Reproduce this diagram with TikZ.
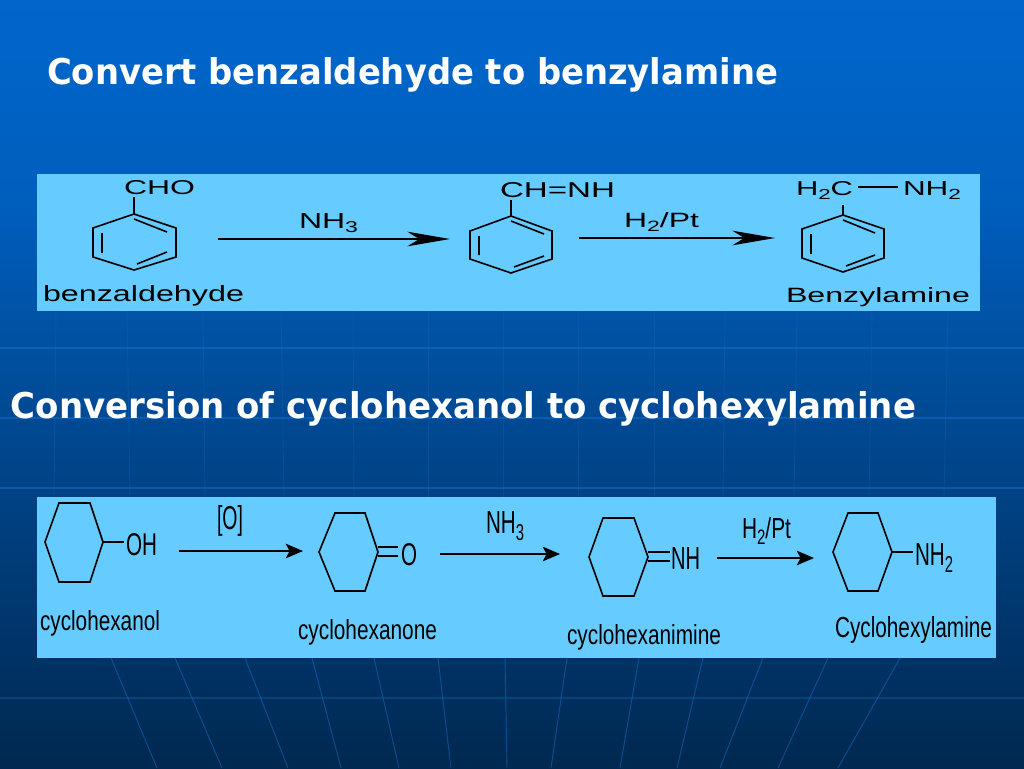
\documentclass[tikz,border=0pt]{standalone}
\usepackage{fontspec}
\usepackage{graphicx}
\usetikzlibrary{arrows.meta}
\setmainfont{Liberation Sans}
\newfontfamily\headfont{DejaVu Sans}
\newdimen\pxu \pxu=0.75pt
\newcommand{\lowidx}[1]{\raisebox{-0.22em}{\fontsize{7.2}{8}\selectfont #1}}
\newcommand{\lbl}[7][labeltext]{\node[#1] (#2) at (#3,#4) {\resizebox{#5\pxu}{#6\pxu}{#7}};}
\tikzset{
  labeltext/.style={anchor=base west,inner sep=0pt,outer sep=0pt,text=black},
  headtext/.style={anchor=base west,inner sep=0pt,outer sep=0pt,text=white},
  panel/.style={fill=panelblue,draw=none},
  bond/.style={draw=black,line width=1.2pt,line join=miter},
  rxnwide/.style={draw=black,line width=1.1pt,-{Stealth[length=32pt,width=11pt,inset=9pt]}},
  rxnshort/.style={draw=black,line width=1.4pt,-{Stealth[length=13pt,width=11pt,inset=3pt]}},
  gridh/.style={draw=gridblue,line width=0.9pt,opacity=0.5},
  gridv/.style={draw=gridblue,line width=0.7pt,opacity=0.25},
  gridb/.style={draw=gridblue,line width=0.7pt,opacity=0.5}
}
\definecolor{panelblue}{HTML}{66CCFF}
\definecolor{gridblue}{HTML}{1270CC}
\definecolor{bgtop}{HTML}{0066CC}
\definecolor{bgmid}{HTML}{005EBD}
\definecolor{bgbot}{HTML}{002850}
\begin{document}
\begin{tikzpicture}[x=0.75pt,y=-0.75pt]
\useasboundingbox (0,0) rectangle (1024,768);
\fill[top color=bgtop,bottom color=bgmid] (0,0) rectangle (1024,200);
\fill[top color=bgmid,bottom color=bgbot] (0,200) rectangle (1024,768);
% background lines
\foreach \yy in {348,418,488} \draw[gridh] (0,\yy) -- (1024,\yy);
\draw[gridh,opacity=0.3] (0,698) -- (1024,698);
\foreach \xa/\xb in {56/54,127/130,203/205,281/284,353/354,428/428,503/503,578/578,654/654,725/723,797/794,872/869,948/944}
  \draw[gridv] (\xa,311) -- (\xb,497);
\foreach \xa/\xb in {111/157,175/222,245/288,312/341,374/399,438/451,505/507,567/551,639/620,703/677,763/720,828/778,900/838}
  \draw[gridb] (\xa,658) -- (\xb,768);
% panels
\fill[panel] (37,174) rectangle (980,311);
\fill[panel] (37,497) rectangle (996,658);
% titles
\lbl[headtext]{t1}{47}{84}{731}{27}{\headfont\bfseries Convert benzaldehyde to benzylamine}
\lbl[headtext]{t2}{11}{418}{905}{27}{\headfont\bfseries Conversion of cyclohexanol to cyclohexylamine}
% benzene 1
\coordinate (b1t) at (134,214); \coordinate (b1s) at (134,197);
\draw[bond] (b1t) -- (176,228) -- (176,257) -- (134,270) -- (93,257) -- (93,228) -- cycle;
\draw[bond] (b1t) -- (b1s);
\draw[bond] (102,233) -- (102,253) (134,219) -- (167,232) (137,264) -- (167,252);
% benzene 2
\coordinate (b2t) at (511,216); \coordinate (b2s) at (511,200);
\draw[bond] (b2t) -- (552,231) -- (552,259) -- (511,273) -- (470,259) -- (470,231) -- cycle;
\draw[bond] (b2t) -- (b2s);
\draw[bond] (479,236) -- (479,255) (511,221) -- (544,234) (514,267) -- (544,256);
% benzene 3
\coordinate (b3t) at (843,215); \coordinate (b3s) at (843,205);
\draw[bond] (b3t) -- (884,229) -- (884,258) -- (843,272) -- (802,258) -- (802,229) -- cycle;
\draw[bond] (b3t) -- (b3s);
\draw[bond] (811,234) -- (811,254) (843,220) -- (875,233) (846,266) -- (875,255);
% top-row labels
\lbl{cho}{124}{194}{71}{14}{CHO}
\lbl{bzal}{43}{301}{201}{16}{benzaldehyde}
\lbl{nh3a}{299}{228}{59}{15}{NH\lowidx{3}}
\lbl{chnh}{500}{197}{115}{15}{CH=NH}
\lbl{hpta}{624}{227}{75}{15}{H\lowidx{2}/Pt}
\lbl{h2c}{796}{195}{57}{14}{H\lowidx{2}C}
\lbl{nh2a}{903}{195}{58}{14}{NH\lowidx{2}}
\lbl{bzam}{786}{302}{184}{15}{Benzylamine}
\coordinate (b3a) at (858,187); \coordinate (b3b) at (898,187);
\draw[bond] (b3a) -- (b3b);
% top-row arrows
\coordinate (a1s) at (218,239); \coordinate (a1e) at (450,239);
\coordinate (a2s) at (579,238); \coordinate (a2e) at (775,238);
\draw[rxnwide] (a1s) -- (a1e);
\draw[rxnwide] (a2s) -- (a2e);
% cyclohexanes
\coordinate (c1r) at (103,542); \coordinate (c1b) at (124,542);
\draw[bond] (59,503) -- (90,503) -- (c1r) -- (90,582) -- (59,582) -- (45,542) -- cycle;
\draw[bond] (c1r) -- (c1b);
\coordinate (c2r) at (378,552);
\draw[bond] (335,513) -- (365,513) -- (c2r) -- (365,591) -- (335,591) -- (319,552) -- cycle;
\draw[bond] (378,547) -- (398,547) (378,556) -- (398,556);
\coordinate (c3r) at (648,557);
\draw[bond] (603,518) -- (634,518) -- (c3r) -- (634,596) -- (603,596) -- (589,557) -- cycle;
\draw[bond] (648,552) -- (670,552) (648,561) -- (670,561);
\coordinate (c4r) at (892,552); \coordinate (c4b) at (913,552);
\draw[bond] (848,513) -- (878,513) -- (c4r) -- (878,591) -- (848,591) -- (833,552) -- cycle;
\draw[bond] (c4r) -- (c4b);
% bottom-row labels
\lbl{oh}{126}{555}{31}{22}{OH}
\lbl{ox}{217}{529}{26}{24}{[O]}
\lbl{oo}{401}{565}{16}{22}{O}
\lbl{nh3b}{486}{533}{38}{22}{NH\lowidx{3}}
\lbl{nh}{671}{569}{29}{22}{NH}
\lbl{hptb}{742}{538}{49}{21}{H\lowidx{2}/Pt}
\lbl{nh2b}{915}{565}{38}{22}{NH\lowidx{2}}
\lbl{cxol}{40}{630}{120}{20}{cyclohexanol}
\lbl{cxone}{298}{639}{139}{20}{cyclohexanone}
\lbl{cxim}{567}{644}{154}{20}{cyclohexanimine}
\lbl{cxam}{835}{637}{157}{21}{Cyclohexylamine}
% bottom-row arrows
\coordinate (a3s) at (179,551); \coordinate (a3e) at (303,551);
\coordinate (a4s) at (440,554); \coordinate (a4e) at (560,554);
\coordinate (a5s) at (717,558); \coordinate (a5e) at (814,558);
\draw[rxnshort] (a3s) -- (a3e);
\draw[rxnshort] (a4s) -- (a4e);
\draw[rxnshort] (a5s) -- (a5e);
\end{tikzpicture}
\end{document}
